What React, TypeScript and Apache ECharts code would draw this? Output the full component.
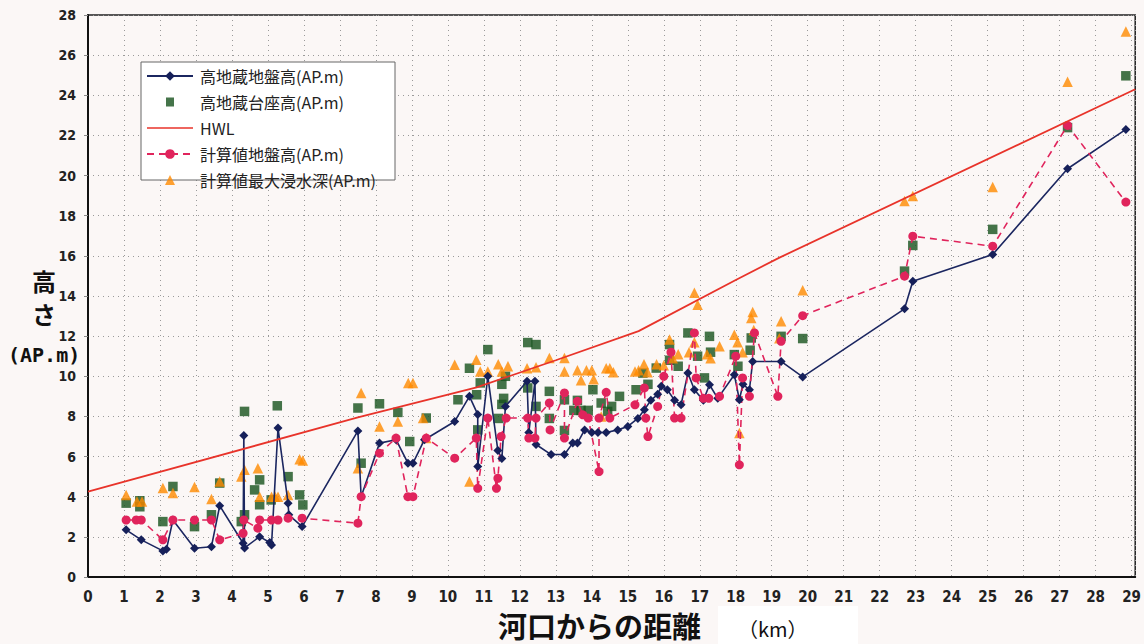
import React, { useEffect, useRef } from "react";
import * as echarts from "echarts";

const xTickLabels = ["0","1","2","3","4","5","6","7","8","9","10","11","12","13","14","15","16","17","18","19","20","21","22","23","24","25","26","27","28","29"];
const yTickLabels = ["0","2","4","6","8","10","12","14","16","18","20","22","24","26","28"];

const seriesNames = ["高地蔵地盤高(AP.m)", "高地蔵台座高(AP.m)", "HWL", "計算値地盤高(AP.m)", "計算値最大浸水深(AP.m)"];

// 高地蔵地盤高 [km, AP.m]
const jizoGround: [number, number][] = [
  [1.06,2.35],[1.48,1.85],[2.08,1.3],[2.18,1.38],[2.36,2.84],[2.96,1.43],[3.43,1.51],[3.66,3.55],
  [4.31,1.68],[4.33,7.05],[4.35,1.45],[4.77,2.01],[5.05,1.72],[5.1,1.6],[5.28,7.42],[5.56,3.68],
  [5.58,3.1],[5.95,2.51],[7.5,7.28],[7.59,4.0],[8.1,6.67],[8.56,6.84],[8.89,5.67],[9.03,5.67],
  [9.35,6.84],[10.19,7.75],[10.6,9.0],[10.83,8.1],[10.83,5.5],[11.11,10.0],[11.39,6.3],[11.5,5.9],
  [11.6,8.5],[12.2,9.75],[12.25,7.2],[12.42,9.75],[12.45,6.6],[12.87,6.1],[13.24,6.1],[13.47,6.67],
  [13.6,6.67],[13.8,7.33],[14.0,7.2],[14.17,7.2],[14.4,7.2],[14.72,7.33],[15.0,7.5],[15.28,7.9],
  [15.46,8.33],[15.64,8.8],[15.83,9.1],[15.93,9.5],[16.1,9.33],[16.3,8.8],[16.48,8.58],[16.67,10.16],
  [16.85,9.33],[17.1,8.8],[17.27,9.58],[17.5,8.9],[17.96,10.08],[18.1,8.83],[18.2,9.6],[18.38,9.33],
  [18.47,10.74],[19.26,10.74],[19.86,9.97],[22.69,13.36],[22.92,14.74],[25.14,16.07],[27.22,20.34],
  [28.84,22.3]
];

// 高地蔵台座高
const jizoPedestal: [number, number][] = [
  [1.06,3.68],[1.44,3.8],[1.44,3.5],[2.08,2.76],[2.36,4.51],[2.96,2.51],[3.43,3.1],[3.66,4.68],
  [4.26,2.76],[4.35,8.25],[4.35,3.1],[4.63,4.34],[4.77,4.84],[4.77,3.6],[5.09,3.84],[5.26,8.53],
  [5.56,5.0],[5.88,4.09],[5.97,3.59],[7.5,8.42],[7.59,5.67],[8.1,8.63],[8.61,8.2],[8.94,6.75],
  [9.4,7.92],[10.28,8.83],[10.6,10.4],[10.8,9.08],[10.83,7.33],[10.9,9.67],[11.11,11.33],[11.4,7.9],
  [11.5,8.6],[11.5,9.6],[11.55,8.9],[11.6,10.0],[12.22,11.68],[12.45,11.58],[12.22,9.42],[12.45,8.5],
  [12.82,9.25],[12.82,7.9],[13.24,8.83],[13.24,7.3],[13.5,8.3],[13.6,8.8],[13.7,8.3],[13.9,8.3],
  [14.03,9.33],[14.26,8.67],[14.44,8.25],[14.55,8.5],[14.77,9.0],[15.23,9.33],[15.42,10.16],[15.56,9.6],
  [15.79,10.41],[16.16,11.58],[16.16,10.8],[16.4,10.5],[16.67,12.16],[16.94,11.0],[17.13,9.92],
  [17.27,11.99],[17.3,11.2],[17.96,11.08],[18.06,10.5],[18.4,11.3],[18.43,11.91],[19.26,11.99],
  [19.86,11.88],[22.69,15.24],[22.92,16.52],[25.14,17.32],[27.22,22.39],[28.84,24.97]
];

// HWL
const hwl: [number, number][] = [
  [0,4.25],[7.5,7.95],[10.8,9.45],[13,10.8],[15.3,12.25],[18,14.8],[19.2,15.9],[29.1,24.3]
];

// 計算値地盤高
const calcGround: [number, number][] = [
  [1.06,2.84],[1.34,2.84],[1.48,2.84],[2.08,1.85],[2.36,2.84],[2.96,2.84],[3.43,2.84],[3.66,1.85],
  [4.31,2.18],[4.33,2.84],[4.72,2.43],[4.77,2.84],[5.1,2.84],[5.28,2.84],[5.56,2.93],[5.95,2.93],
  [7.5,2.68],[7.59,4.0],[8.1,6.17],[8.56,6.92],[8.89,4.0],[9.03,4.0],[9.4,6.92],[10.19,5.92],
  [10.79,6.92],[10.83,4.42],[11.11,7.92],[11.35,4.42],[11.39,4.92],[11.48,7.0],[11.62,7.92],[12.22,7.92],
  [12.25,6.92],[12.42,6.92],[12.45,7.92],[12.82,8.67],[12.84,7.33],[13.24,9.17],[13.24,6.92],[13.6,8.75],
  [13.75,8.08],[13.9,7.92],[14.2,5.25],[14.2,7.92],[14.4,9.2],[14.5,7.92],[15.2,8.58],[15.46,9.42],
  [15.5,7.92],[15.56,7.0],[15.83,8.5],[16.0,10.0],[16.2,11.2],[16.3,7.92],[16.48,7.92],[16.85,12.16],
  [16.9,9.92],[17.1,8.9],[17.25,8.9],[17.55,9.0],[18.0,11.0],[18.1,5.59],[18.19,9.92],[18.38,9.0],
  [18.52,12.16],[19.17,9.0],[19.26,11.74],[19.86,13.02],[22.69,14.99],[22.92,16.98],[25.14,16.48],
  [27.22,22.5],[28.84,18.68]
];

// 計算値最大浸水深
const calcMaxDepth: [number, number][] = [
  [1.06,4.09],[1.36,3.76],[1.5,3.76],[2.08,4.43],[2.36,4.18],[2.96,4.48],[3.43,3.88],[3.66,4.76],
  [4.26,5.01],[4.35,5.34],[4.72,5.42],[4.77,4.0],[5.1,4.0],[5.2,4.0],[5.28,4.0],[5.56,4.09],
  [5.88,5.87],[5.97,5.8],[7.5,5.42],[7.59,9.17],[8.1,7.5],[8.61,7.75],[8.9,9.67],[9.03,9.67],
  [9.31,7.92],[9.4,6.92],[10.19,10.58],[10.6,4.76],[10.79,10.83],[10.9,10.24],[11.11,10.24],[11.4,10.6],
  [11.5,10.24],[11.67,10.5],[12.2,10.4],[12.45,10.45],[12.82,10.91],[13.24,10.91],[13.24,10.24],[13.6,10.3],
  [13.7,9.8],[13.85,10.3],[14.0,10.3],[14.05,9.85],[14.26,8.0],[14.4,10.4],[14.5,10.4],[14.6,10.2],
  [15.2,10.24],[15.3,10.3],[15.45,10.6],[15.55,10.2],[15.8,10.6],[16.0,10.55],[16.16,11.83],[16.25,10.9],
  [16.4,11.1],[16.7,11.2],[16.85,14.16],[16.94,13.57],[16.85,11.7],[17.2,11.1],[17.3,10.9],[17.55,11.5],
  [17.96,12.07],[18.05,11.7],[18.1,7.17],[18.19,11.2],[18.43,12.9],[18.47,13.2],[18.5,12.3],[19.21,11.9],
  [19.26,12.74],[19.86,14.29],[22.69,18.73],[22.92,18.98],[25.14,19.43],[27.22,24.67],[28.84,27.18]
];

const axisFont = "'Liberation Sans Narrow', 'DejaVu Sans Condensed', 'Liberation Sans', sans-serif";
const cjkFont = "'Noto Sans CJK JP', 'Noto Sans', sans-serif";

// legend icons (46 x 12 box, extra moves fix the bounding box so the mark stays small and centred)
const iconSquare = "path://M0,0 M46,12 M19,1.5 L27,1.5 L27,10.5 L19,10.5 Z";
const iconTriangle = "path://M0,0 M46,12 M23,1 L28,11 L18,11 Z";
const iconLine = "path://M0,0 M46,12 M0,5.2 L46,5.2 L46,6.8 L0,6.8 Z";

export default function App() {
  const ref = useRef<HTMLDivElement>(null);
  useEffect(() => {
    if (!ref.current) return;
    const chart = echarts.init(ref.current, undefined, { renderer: "svg" });
    chart.setOption({
      animation: false,
      backgroundColor: "#fbf7f6",
      grid: {
        left: 88, right: 6, top: 15, bottom: 67,
        show: true, borderColor: "#222", borderWidth: 1.5, backgroundColor: "transparent",
      },
      xAxis: {
        type: "value", min: 0, max: 29.1, interval: 1,
        axisLine: { show: true, lineStyle: { color: "#111", width: 2 } },
        axisTick: { show: false },
        splitLine: { show: true, lineStyle: { color: "#9a9a9a", type: [1, 4], width: 1 } },
        axisLabel: {
          margin: 12, color: "#222", fontSize: 15, fontWeight: "bold", fontFamily: axisFont,
          showMaxLabel: false,
          formatter: (v: number) => (Number.isInteger(v) && v <= 29 ? xTickLabels[v] : ""),
        },
      },
      yAxis: {
        type: "value", min: 0, max: 28, interval: 2,
        axisLine: { show: true, lineStyle: { color: "#111", width: 2 } },
        axisTick: { show: true, length: 4, lineStyle: { color: "#888" } },
        splitLine: { show: true, lineStyle: { color: "#9a9a9a", type: [1, 4], width: 1 } },
        axisLabel: {
          margin: 12, color: "#222", fontSize: 14, fontWeight: "bold", fontFamily: axisFont,
          formatter: (v: number) => yTickLabels[Math.round(v / 2)] ?? "",
        },
      },
      legend: {
        orient: "vertical", left: 146, top: 64,
        itemWidth: 46, itemHeight: 12, itemGap: 10,
        padding: [4, 6, 4, 0],
        textStyle: { fontSize: 16, lineHeight: 13, color: "#222", fontFamily: cjkFont, padding: [0, 0, 0, 2] },
        data: [
          { name: seriesNames[0] },
          { name: seriesNames[1], icon: iconSquare },
          { name: seriesNames[2], icon: iconLine },
          { name: seriesNames[3] },
          { name: seriesNames[4], icon: iconTriangle },
        ],
        z: 10,
      },
      graphic: [
        { type: "rect", z: 5, shape: { x: 141, y: 62, width: 254, height: 118 },
          style: { fill: "#ffffff", stroke: "#666", lineWidth: 1 } },
        { type: "text", left: 32, top: 264,
          style: { text: "高\nさ", font: `bold 24px ${cjkFont}`, lineHeight: 33, fill: "#111", align: "left" } },
        { type: "text", left: 8, top: 345, style: { text: "(AP.m)", font: `bold 20px 'DejaVu Sans Mono', monospace`, fill: "#111" } },
        { type: "text", left: 498, top: 610, style: { text: "河口からの距離", font: `bold 29px ${cjkFont}`, fill: "#111" } },
        { type: "rect", shape: { x: 718, y: 606, width: 140, height: 40 }, style: { fill: "#ffffff" } },
        { type: "text", left: 738, top: 618, style: { text: "（km）", font: `20px ${cjkFont}`, fill: "#111" } },
      ],
      series: [
        {
          name: seriesNames[0], type: "line", data: jizoGround, z: 3,
          symbol: "diamond", symbolSize: 9,
          lineStyle: { color: "#1b2660", width: 1.6 },
          itemStyle: { color: "#16205a" },
        },
        {
          name: seriesNames[1], type: "scatter", data: jizoPedestal, z: 2,
          symbol: "rect", symbolSize: 9.5,
          itemStyle: { color: "#17511d" },
        },
        {
          name: seriesNames[2], type: "line", data: hwl, z: 4,
          symbol: "none", showSymbol: false,
          lineStyle: { color: "#e8332a", width: 1.8 },
          itemStyle: { color: "#e8332a" },
        },
        {
          name: seriesNames[3], type: "line", data: calcGround, z: 3,
          symbol: "circle", symbolSize: 9,
          lineStyle: { color: "#e0245c", width: 1.6, type: [7, 5] },
          itemStyle: { color: "#e0245c" },
        },
        {
          name: seriesNames[4], type: "scatter", data: calcMaxDepth, z: 2,
          symbol: "triangle", symbolSize: 10.5,
          itemStyle: { color: "#ff8a00" },
        },
      ],
    });
    return () => chart.dispose();
  }, []);
  return (
    <div
      ref={ref}
      style={{ position: "absolute", left: 0, top: 0, width: 1144, height: 644 }}
    />
  );
}
